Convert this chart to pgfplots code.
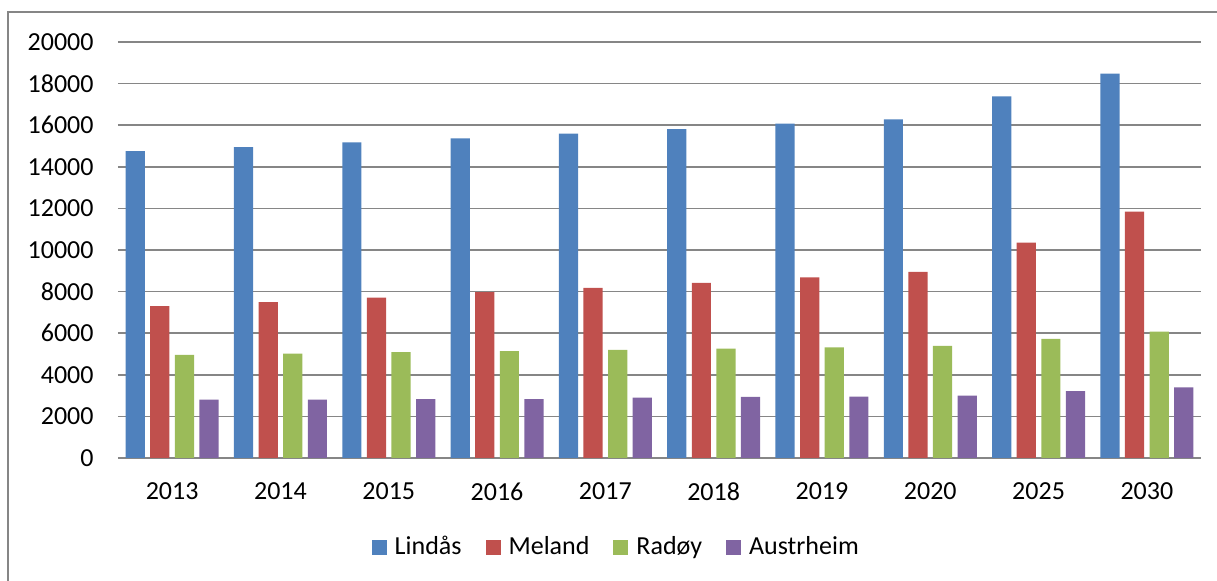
\documentclass[border=0pt]{standalone}
\usepackage{pgfplots}
\pgfplotsset{compat=1.18}
\usepackage{pgfplotstable}
\usepackage{fontspec}
\setmainfont{Carlito}
\definecolor{cblue}{HTML}{4F81BD}
\definecolor{cred}{HTML}{C0504D}
\definecolor{cgreen}{HTML}{9BBB59}
\definecolor{cpurple}{HTML}{8064A2}
\definecolor{gridgray}{RGB}{134,134,134}
\pgfplotstableread{
x Lindas Meland Radoy Austrheim
0 14750 7300 4960 2800
1 14950 7490 5020 2800
2 15170 7710 5090 2830
3 15370 7970 5140 2830
4 15600 8180 5200 2900
5 15810 8420 5260 2940
6 16070 8680 5320 2950
7 16280 8950 5390 3000
8 17390 10350 5730 3210
9 18480 11840 6080 3400
}\datatable
\pgfplotsset{sqlegend/.style={legend image code/.code={\fill[##1] (0pt,-3.75pt) rectangle (7.5pt,3.75pt); \path (9.5pt,0pt);}}}
\begin{document}
\begin{tikzpicture}[x=1pt,y=1pt]
\path[use as bounding box] (-59,-61.5) rectangle (549.5,229);
\draw[gridgray,line width=0.6pt] (-55,-62) -- (-55,223) -- (550,223);
\begin{axis}[
  at={(0,0)}, anchor=south west,
  scale only axis, width=541.5pt, height=208pt,
  ybar=2.7pt, bar width=9.6pt,
  xmin=-0.5, xmax=9.5, ymin=0, ymax=20000,
  xtick=data,
  xticklabels={2013,2014,2015,2016,2017,2018,2019,2020,2025,2030},
  ytick={0,2000,...,20000},
  ymajorgrids, grid style={gridgray,line width=0.8pt},
  axis line style={draw=none},
  major tick length=0pt,
  tick label style={font=\fontsize{13}{15}\selectfont},
  /pgf/number format/assume math mode=true,
  scaled y ticks=false,
  yticklabel style={/pgf/number format/1000 sep={}, anchor=east, xshift=-8.7pt},
  xticklabel style={anchor=north, yshift=-9pt},
  legend style={at={(0.461,-0.214)}, anchor=center, draw=none, fill=none,
    font=\fontsize{13}{15}\selectfont, legend columns=4,
    /tikz/every even column/.append style={column sep=10pt}},
  legend cell align=left,
]
\addplot[fill=cblue, draw=none, sqlegend] table[x=x,y=Lindas] {\datatable};
\addplot[fill=cred, draw=none, sqlegend] table[x=x,y=Meland] {\datatable};
\addplot[fill=cgreen, draw=none, sqlegend] table[x=x,y=Radoy] {\datatable};
\addplot[fill=cpurple, draw=none, sqlegend] table[x=x,y=Austrheim] {\datatable};
\legend{Lindås,Meland,Radøy,Austrheim}
\end{axis}
\end{tikzpicture}
\end{document}
